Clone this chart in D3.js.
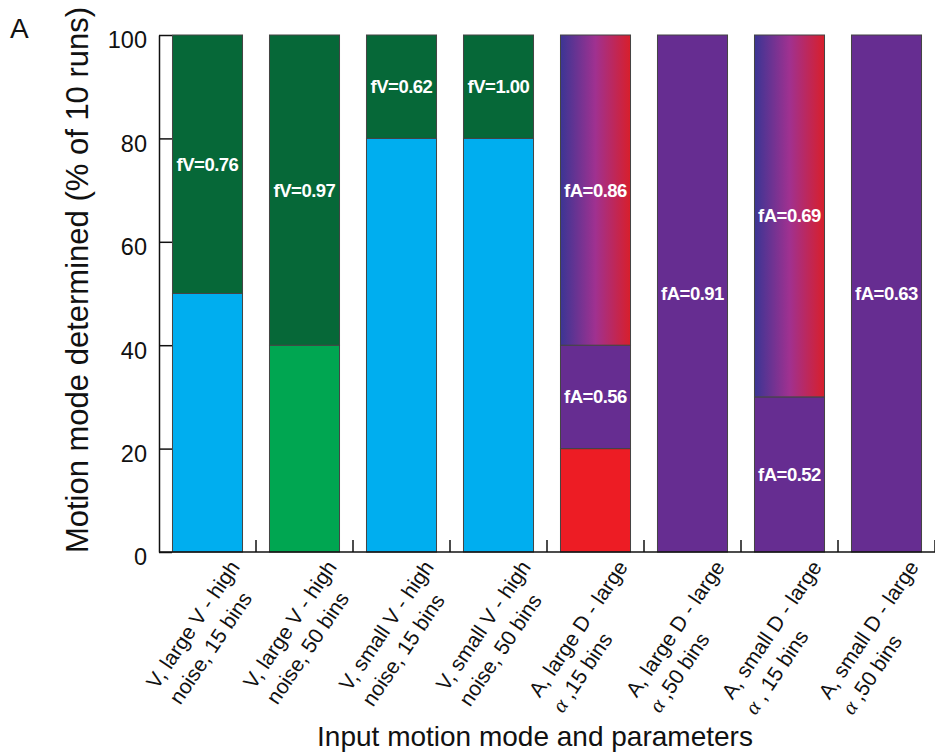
<!DOCTYPE html>
<html>
<head>
  <style>
    body { margin: 0; background: #fff; }
    svg text { font-family: "Liberation Sans", Arial, sans-serif; }
    .seglabel { fill: #fff; font-size: 18.5px; font-weight: bold; text-anchor: middle; letter-spacing: -0.5px; }
  </style>
  <script src="https://d3js.org/d3.v7.min.js"></script>
</head>
<body>
  <svg width="935" height="753"></svg>
  <script>
    // x categories (each is two lines of tick text)
    var categories = [
      ["V, large V - high", "noise, 15 bins"],
      ["V, large V - high", "noise, 50 bins"],
      ["V, small V - high", "noise, 15 bins"],
      ["V, small V - high", "noise, 50 bins"],
      ["A, large D - large", "\u03b1 ,15 bins"],
      ["A, large D - large", "\u03b1 ,50 bins"],
      ["A, small D - large", "\u03b1 , 15 bins"],
      ["A, small D - large", "\u03b1 ,50 bins"]
    ];

    // stacked segments, bottom to top (% of 10 runs)
    var seg1 = [50, 40, 80, 80, 20, 100, 30, 100];
    var seg2 = [50, 60, 20, 20, 20, 0, 70, 0];
    var seg3 = [0, 0, 0, 0, 60, 0, 0, 0];

    // which mode each segment shows
    var mode1 = ["cyan", "green", "cyan", "cyan", "red", "purple", "purple", "purple"];
    var mode2 = ["dkgreen", "dkgreen", "dkgreen", "dkgreen", "purple", "none", "mixed", "none"];
    var mode3 = ["none", "none", "none", "none", "mixed", "none", "none", "none"];

    // fraction labels inside segments
    var label1 = ["", "", "", "", "", "fA=0.91", "fA=0.52", "fA=0.63"];
    var label2 = ["fV=0.76", "fV=0.97", "fV=0.62", "fV=1.00", "fA=0.56", "", "fA=0.69", ""];
    var label3 = ["", "", "", "", "fA=0.86", "", "", ""];

    var yTicks = [0, 20, 40, 60, 80, 100];

    var svg = d3.select("svg");

    var defs = svg.append("defs");
    var grad = defs.append("linearGradient").attr("id", "mixed")
      .attr("x1", "0").attr("x2", "1").attr("y1", "0").attr("y2", "0");
    grad.append("stop").attr("offset", "0%").attr("stop-color", "#3b3594");
    grad.append("stop").attr("offset", "50%").attr("stop-color", "#a03190");
    grad.append("stop").attr("offset", "100%").attr("stop-color", "#d81f2b");

    var color = d3.scaleOrdinal()
      .domain(["cyan", "green", "dkgreen", "red", "purple", "mixed", "none"])
      .range(["#00aeef", "#00a651", "#066838", "#ed1c24", "#662d91", "url(#mixed)", "none"]);

    var rows = categories.map(function (c, i) {
      return { i: i, s1: seg1[i], s2: seg2[i], s3: seg3[i] };
    });
    var modes = { s1: mode1, s2: mode2, s3: mode3 };
    var labels = { s1: label1, s2: label2, s3: label3 };

    var series = d3.stack().keys(["s1", "s2", "s3"])(rows);

    var x = d3.scaleBand()
      .domain(d3.range(categories.length))
      .range([159, 935])
      .paddingInner(0.278)
      .paddingOuter(0.139);

    var y = d3.scaleLinear().domain([0, 100]).range([552, 35]);

    var layer = svg.append("g").selectAll("g")
      .data(series)
      .enter().append("g");

    layer.selectAll("rect")
      .data(function (s) {
        return s.map(function (d) { return { key: s.key, d: d }; })
          .filter(function (e) { return e.d[1] > e.d[0]; });
      })
      .enter().append("rect")
      .attr("x", function (e) { return x(e.d.data.i); })
      .attr("width", x.bandwidth())
      .attr("y", function (e) { return y(e.d[1]); })
      .attr("height", function (e) { return y(e.d[0]) - y(e.d[1]); })
      .attr("fill", function (e) { return color(modes[e.key][e.d.data.i]); })
      .attr("stroke", "#444")
      .attr("stroke-width", 1);

    layer.selectAll("text")
      .data(function (s) {
        return s.map(function (d) { return { key: s.key, d: d }; })
          .filter(function (e) { return labels[e.key][e.d.data.i] !== ""; });
      })
      .enter().append("text")
      .attr("class", "seglabel")
      .attr("x", function (e) { return x(e.d.data.i) + x.bandwidth() / 2; })
      .attr("y", function (e) { return y((e.d[0] + e.d[1]) / 2); })
      .attr("dy", "0.35em")
      .text(function (e) { return labels[e.key][e.d.data.i]; });

    // y axis, ticks pointing inward
    var yAxis = svg.append("g")
      .attr("transform", "translate(159,0)")
      .call(d3.axisLeft(y).tickValues(yTicks).tickSizeInner(-13).tickSizeOuter(0).tickPadding(12));
    yAxis.selectAll("text").attr("font-size", 23.5).attr("fill", "#111").attr("dy", "0.55em")
      .style("font-family", "'Liberation Sans', Arial, sans-serif");
    yAxis.selectAll("line, path").attr("stroke", "#111").attr("stroke-width", 1.5);

    // x axis: baseline and ticks at band boundaries
    var xg = svg.append("g");
    xg.append("line")
      .attr("x1", x.range()[0]).attr("x2", x.range()[1])
      .attr("y1", y(0)).attr("y2", y(0))
      .attr("stroke", "#111").attr("stroke-width", 1.5);
    xg.selectAll(".xtick")
      .data(d3.range(1, categories.length + 1))
      .enter().append("line")
      .attr("class", "xtick")
      .attr("x1", function (k) { return x.range()[0] + k * x.step(); })
      .attr("x2", function (k) { return x.range()[0] + k * x.step(); })
      .attr("y1", y(0)).attr("y2", y(0) - 12)
      .attr("stroke", "#111").attr("stroke-width", 1.5);

    // rotated two-line category labels
    var tl = xg.selectAll(".xlab")
      .data(categories)
      .enter().append("g")
      .attr("class", "xlab")
      .attr("transform", function (c, i) {
        return "translate(" + (x(i) + x.bandwidth() / 2 + 33) + "," + (y(0) + 15) + ") rotate(-56)";
      });
    tl.each(function (c) {
      var t = d3.select(this).append("text")
        .attr("font-size", 21).attr("fill", "#111");
      t.append("tspan").attr("x", 0).attr("dy", 0).text(c[0]);
      var l2 = t.append("tspan").attr("x", 0).attr("dy", "1.32em");
      if (c[1].charAt(0) === "\u03b1") {
        l2.append("tspan").style("font-family", "'Liberation Serif', serif").attr("font-style", "italic").text("\u03b1");
        l2.append("tspan").text(c[1].slice(1));
      } else {
        l2.text(c[1]);
      }
      var w = t.select("tspan").node().getComputedTextLength();
      t.attr("transform", "translate(" + (-w) + ",0)");
    });

    svg.append("text")
      .attr("x", 535).attr("y", 746)
      .attr("text-anchor", "middle")
      .attr("font-size", 28).attr("fill", "#111")
      .text("Input motion mode and parameters");

    svg.append("text")
      .attr("transform", "translate(88,280) rotate(-90)")
      .attr("text-anchor", "middle")
      .attr("font-size", 31).attr("fill", "#111")
      .text("Motion mode determined (% of 10 runs)");

    svg.append("text")
      .attr("x", 10).attr("y", 38)
      .attr("font-size", 28).attr("fill", "#111")
      .text("A");
  </script>
</body>
</html>
